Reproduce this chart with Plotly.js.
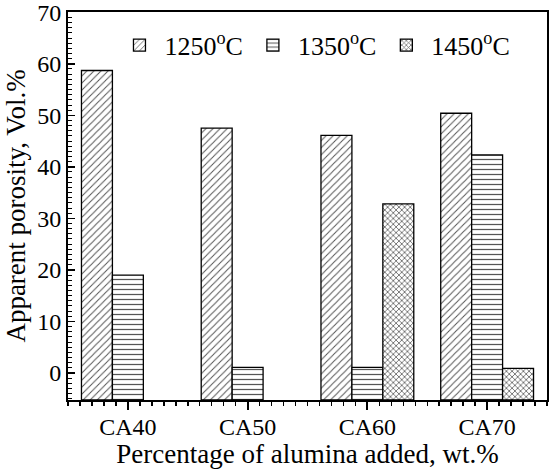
<!DOCTYPE html>
<html>
<head>
<meta charset="utf-8">
<script src="https://cdn.plot.ly/plotly-3.0.1.min.js"></script>
<style>html,body{margin:0;padding:0;background:#fff;}#chart{width:550px;height:469px;}</style>
</head>
<body>
<div id="chart"></div>
<script>
const categories = ['CA40', 'CA50', 'CA60', 'CA70'];
const seriesNames = ['1250<sup>o</sup>C', '1350<sup>o</sup>C', '1450<sup>o</sup>C'];
const values1250 = [58.7, 47.5, 46.1, 50.4];
const values1350 = [19.0, 1.1, 1.1, 42.3];
const values1450 = [null, null, 32.8, 0.9];
const yTickVals = [0, 10, 20, 30, 40, 50, 60, 70];

const yMin = -5.25, yMax = 70.05;
const xIdx = categories.map((c, i) => i);
const patterns = [
  {shape: '/', size: 5, solidity: 0.2, fgcolor: '#555', bgcolor: '#fff'},
  {shape: '-', size: 5, solidity: 0.25, fgcolor: '#555', bgcolor: '#fff'},
  {shape: 'x', size: 4, solidity: 0.35, fgcolor: '#555', bgcolor: '#fff'}
];
const allValues = [values1250, values1350, values1450];
const traces = allValues.map((vals, k) => ({
  type: 'bar',
  name: seriesNames[k],
  x: xIdx,
  y: vals.map(v => v === null ? null : v - yMin),
  base: yMin,
  marker: {color: '#fff', pattern: patterns[k], line: {color: '#000', width: 1.3}},
  hoverinfo: 'skip'
}));

const font = {family: '"Liberation Serif", "Times New Roman", serif', color: '#000'};
const f = s => Object.assign({size: s}, font);
const layout = {
  width: 550, height: 469,
  margin: {l: 68, r: 3, t: 12, b: 69},
  paper_bgcolor: '#fff', plot_bgcolor: '#fff',
  barmode: 'group', bargap: 0.225, bargroupgap: 0,
  font: f(24),
  showlegend: true,
  legend: {orientation: 'h', x: 0.097, y: 0.975, xanchor: 'left', yanchor: 'top',
    font: f(26), bgcolor: 'rgba(0,0,0,0)', itemwidth: 40,
    tracegroupgap: 0, traceorder: 'normal'},
  xaxis: {
    range: [-0.5, 3.5], tickvals: xIdx, ticktext: categories,
    showgrid: false, zeroline: false,
    showline: true, linecolor: '#000', linewidth: 2, mirror: true,
    ticks: 'outside', ticklen: 8, tickwidth: 2, tickcolor: '#000',
    ticklabelstandoff: -4,
    tickfont: f(24),
    minor: {dtick: 0.1, tick0: -0.5, ticks: 'outside', ticklen: 4, tickwidth: 1.5, tickcolor: '#000', showgrid: false},
    title: {text: 'Percentage of alumina added, wt.%', font: f(27), standoff: 0}
  },
  yaxis: {
    range: [yMin, yMax], tickvals: yTickVals,
    showgrid: false, zeroline: false,
    showline: true, linecolor: '#000', linewidth: 2, mirror: true,
    ticks: 'inside', ticklen: 7, tickwidth: 1.5, tickcolor: '#000',
    ticklabeloverflow: 'allow',
    tickfont: f(24),
    minor: {dtick: 1, tick0: 0, ticks: 'inside', ticklen: 4, tickwidth: 1, tickcolor: '#000', showgrid: false},
    title: {text: 'Apparent porosity, Vol.%', font: f(27), standoff: 4}
  }
};
Plotly.newPlot('chart', traces, layout, {displayModeBar: false, staticPlot: true});
</script>
</body>
</html>
